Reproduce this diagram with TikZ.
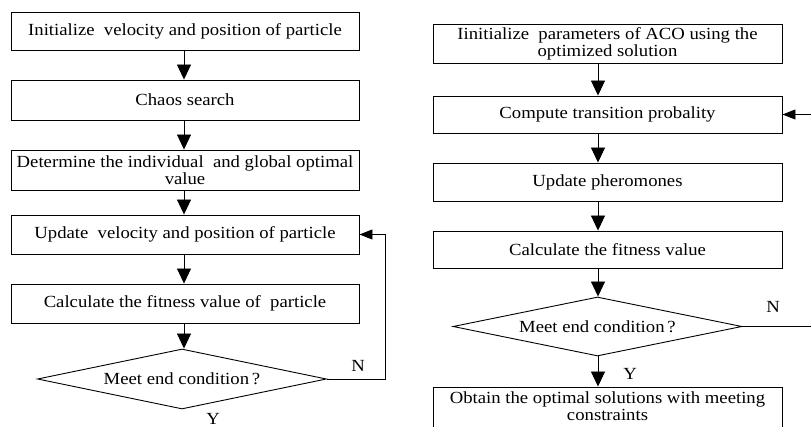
\documentclass[tikz,border=0pt]{standalone}
\usepackage{fontspec}
\setmainfont{Liberation Serif}[FakeStretch=1.1]
\usetikzlibrary{arrows.meta,shapes.geometric}
\begin{document}
\begin{tikzpicture}[x=1pt,y=-1pt,
  txt/.style={inner sep=0pt,align=center,font=\fontsize{17}{17}\selectfont},
  box/.style={txt,draw,line width=0.9pt,minimum width=348pt,minimum height=#1},
  box/.default=39pt,
  dia/.style={txt,draw,diamond,line width=0.9pt,minimum width=289pt,minimum height=60pt,aspect=4.8},
  arr/.style={line width=0.9pt,-{Triangle[length=15pt,width=14pt]}},
  harr/.style={line width=0.9pt,-{Triangle[length=13pt,width=10pt]}},
  lbl/.style={inner sep=0pt,font=\fontsize{17}{17}\selectfont}]
\useasboundingbox (0,0) rectangle (811,427);
% left column
\coordinate (lax) at (184,0);
\coordinate (lturn) at (385,0);
\node[box=38pt] (l1) at (185,31) {Initialize\ \ velocity and position of particle};
\node[box=40pt] (l2) at (185,100) {Chaos search};
\node[box=40pt] (l3) at (185,170) {Determine the individual\ \ and global optimal\\value};
\node[box] (l4) at (185,234.5) {Update\ \ velocity and position of particle};
\node[box] (l5) at (185,303.5) {Calculate the fitness value of\ \ particle};
\node[dia,minimum height=60pt] (ld) at (182,379) {Meet end condition\,?};
\draw[arr] (l1.south -| lax) -- (l2.north -| lax);
\draw[arr] (l2.south -| lax) -- (l3.north -| lax);
\draw[arr] (l3.south -| lax) -- (l4.north -| lax);
\draw[arr] (l4.south -| lax) -- (l5.north -| lax);
\draw[arr] (l5.south -| lax) -- (ld.north -| lax);
\draw[harr] (ld.east) -- (ld.east -| lturn) |- (l4.east);
\node[lbl] (ln) at (358,366) {N};
\node[lbl] (ly) at (213,419) {Y};
% right column
\coordinate (rax) at (598,0);
\coordinate (rturn) at (835,0);
\node[box=39pt,minimum width=349pt] (r1) at (607.5,43.5) {Iinitialize\ \ parameters of ACO using the\\optimized solution};
\node[box=37pt,minimum width=349pt] (r2) at (607.5,114.5) {Compute transition probality};
\node[box=38pt,minimum width=349pt] (r3) at (607.5,182) {Update pheromones};
\node[box=37pt,minimum width=349pt] (r4) at (607.5,249.5) {Calculate the fitness value};
\node[dia,minimum height=59pt] (rd) at (597.5,326.5) {Meet end condition\,?};
\node[box=44pt,minimum width=349pt] (r5) at (607.5,409) {Obtain the optimal solutions with meeting\\constraints\rule[-6pt]{0pt}{6pt}};
\draw[arr] (r1.south -| rax) -- (r2.north -| rax);
\draw[arr] (r2.south -| rax) -- (r3.north -| rax);
\draw[arr] (r3.south -| rax) -- (r4.north -| rax);
\draw[arr] (r4.south -| rax) -- (rd.north -| rax);
\draw[arr] (rd.south -| rax) -- (r5.north -| rax);
\draw[harr] (rd.east) -- (rd.east -| rturn) |- (r2.east);
\node[lbl] (rn) at (773,307) {N};
\node[lbl] (ry) at (630,374) {Y};
\end{tikzpicture}
\end{document}
